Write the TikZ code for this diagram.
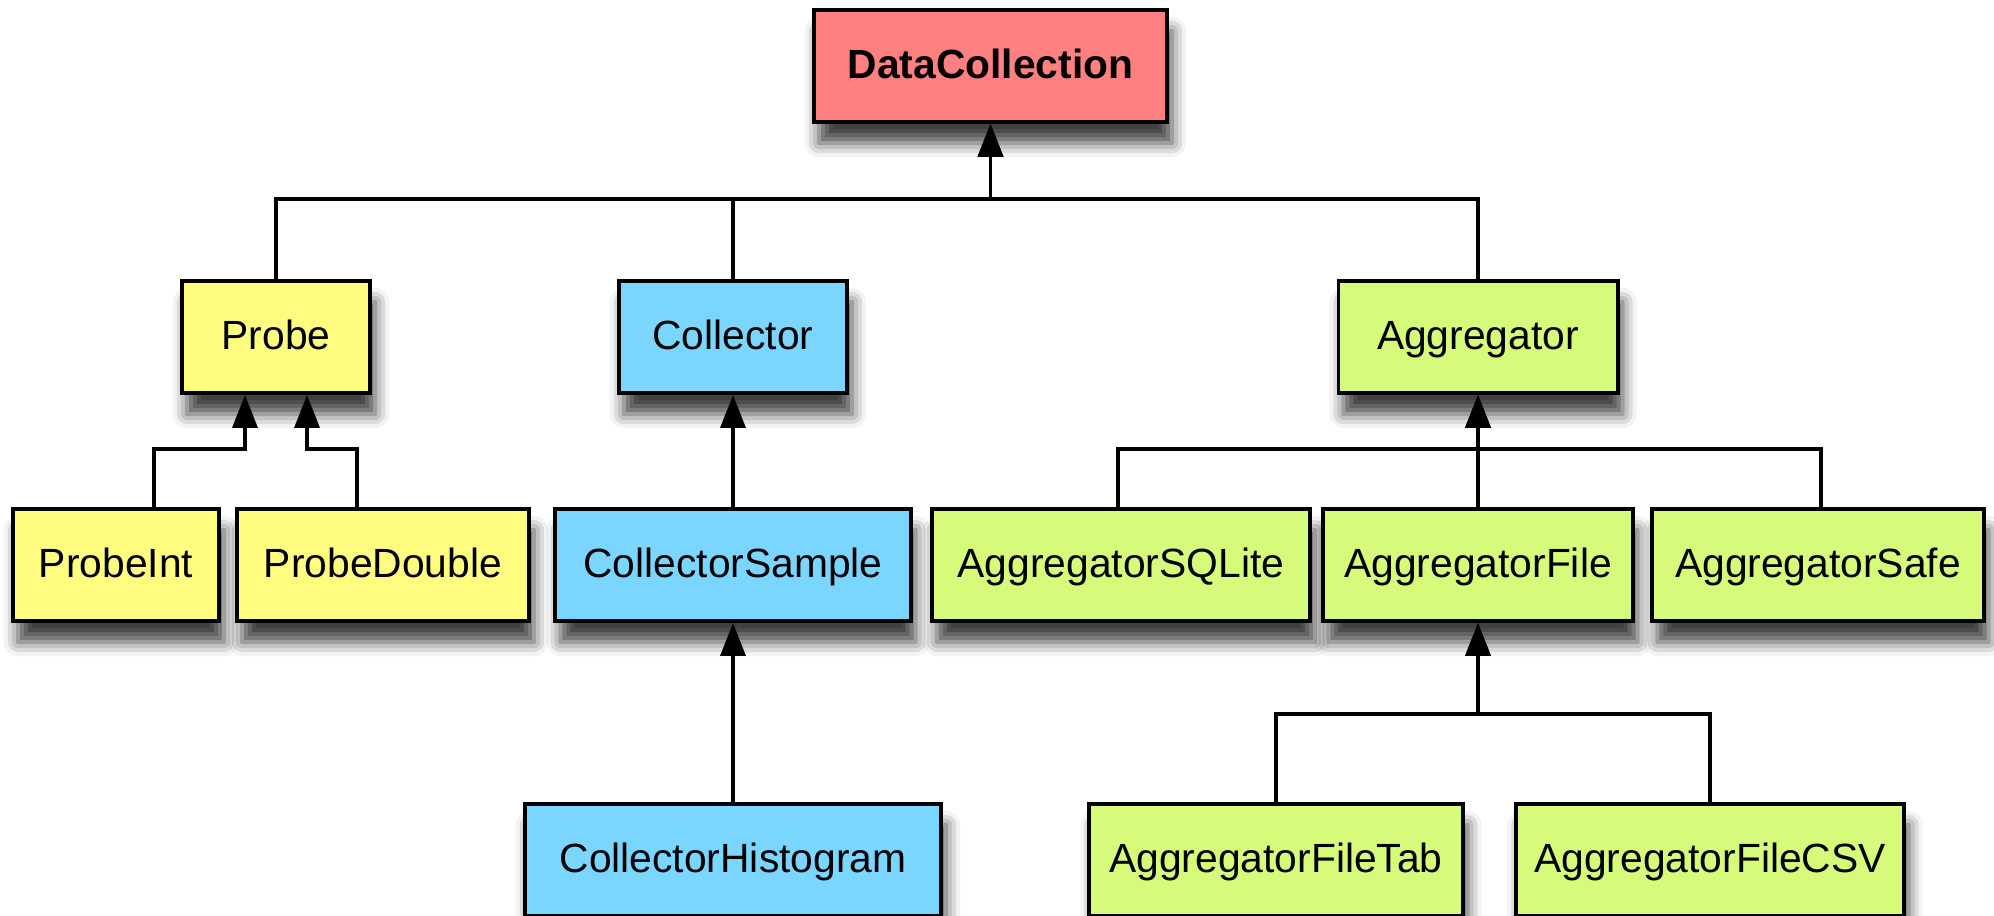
\documentclass[tikz,border=0pt]{standalone}
\usepackage{fontspec}
\setmainfont{Liberation Sans}
\usetikzlibrary{arrows.meta,shadows.blur}

\definecolor{rootred}{RGB}{255,128,128}
\definecolor{probeyellow}{RGB}{255,252,127}
\definecolor{collblue}{RGB}{122,214,255}
\definecolor{aggrgreen}{RGB}{214,250,122}

\tikzset{
  cls/.style={draw=black, line width=1.1pt, inner sep=0pt,
    minimum height=1.12cm, text height=0.716em, text depth=0pt,
    font=\fontsize{11.6}{14}\selectfont,
    blur shadow={shadow xshift=0.05cm, shadow yshift=-0.21cm,
      shadow blur radius=0.14cm, shadow opacity=75}},
  rootcls/.style={cls, fill=rootred, font=\fontsize{11.6}{14}\selectfont\bfseries},
  probecls/.style={cls, fill=probeyellow},
  collcls/.style={cls, fill=collblue},
  aggrcls/.style={cls, fill=aggrgreen},
  inh/.style={line width=1pt, -{Triangle[length=0.33cm,width=0.25cm]}},
}

\begin{document}
\begin{tikzpicture}[x=0.01cm, y=-0.01cm]
\useasboundingbox (0,0) rectangle (1994,916);

% root
\node[rootcls, minimum width=3.53cm] (DataCollection) at (990.5,66) {DataCollection};

% first level
\node[probecls, minimum width=1.88cm] (Probe) at (276,337) {Probe};
\node[collcls, minimum width=2.28cm] (Collector) at (733,337) {Collector};
\node[aggrcls, minimum width=2.79cm] (Aggregator) at (1478,337) {Aggregator};

% second level
\node[probecls, minimum width=2.06cm] (ProbeInt) at (116,565) {ProbeInt};
\node[probecls, minimum width=2.92cm] (ProbeDouble) at (383,565) {ProbeDouble};
\node[collcls, minimum width=3.55cm] (CollectorSample) at (733,565) {CollectorSample};
\node[aggrcls, minimum width=3.78cm] (AggregatorSQLite) at (1121,565) {AggregatorSQLite};
\node[aggrcls, minimum width=3.09cm] (AggregatorFile) at (1478,565) {AggregatorFile};
\node[aggrcls, minimum width=3.31cm] (AggregatorSafe) at (1818,565) {AggregatorSafe};

% third level
\node[collcls, minimum width=4.16cm] (CollectorHistogram) at (733,860) {CollectorHistogram};
\node[aggrcls, minimum width=3.73cm] (AggregatorFileTab) at (1276,860) {AggregatorFileTab};
\node[aggrcls, minimum width=3.87cm] (AggregatorFileCSV) at (1710,860) {AggregatorFileCSV};

% inheritance: first level to root
\draw[inh] (Probe.north) -- ++(0,-80) -| (DataCollection.south);
\draw[inh] (Collector.north) -- ++(0,-80) -| (DataCollection.south);
\draw[inh] (Aggregator.north) -- ++(0,-80) -| (DataCollection.south);

% Probe subclasses
\draw[inh] ([xshift=0.38cm]ProbeInt.north) -- ++(0,-58) -| ([xshift=-0.31cm]Probe.south);
\draw[inh] ([xshift=-0.26cm]ProbeDouble.north) -- ++(0,-58) -| ([xshift=0.31cm]Probe.south);

% Collector chain
\draw[inh] (CollectorSample.north) -- (Collector.south);
\draw[inh] (CollectorHistogram.north) -- (CollectorSample.south);

% Aggregator subclasses
\draw[inh] ([xshift=-0.03cm]AggregatorSQLite.north) -- ++(0,-58) -| (Aggregator.south);
\draw[inh] (AggregatorFile.north) -- (Aggregator.south);
\draw[inh] ([xshift=0.03cm]AggregatorSafe.north) -- ++(0,-58) -| (Aggregator.south);

% AggregatorFile subclasses
\draw[inh] (AggregatorFileTab.north) -- ++(0,-88) -| (AggregatorFile.south);
\draw[inh] (AggregatorFileCSV.north) -- ++(0,-88) -| (AggregatorFile.south);
\end{tikzpicture}
\end{document}
